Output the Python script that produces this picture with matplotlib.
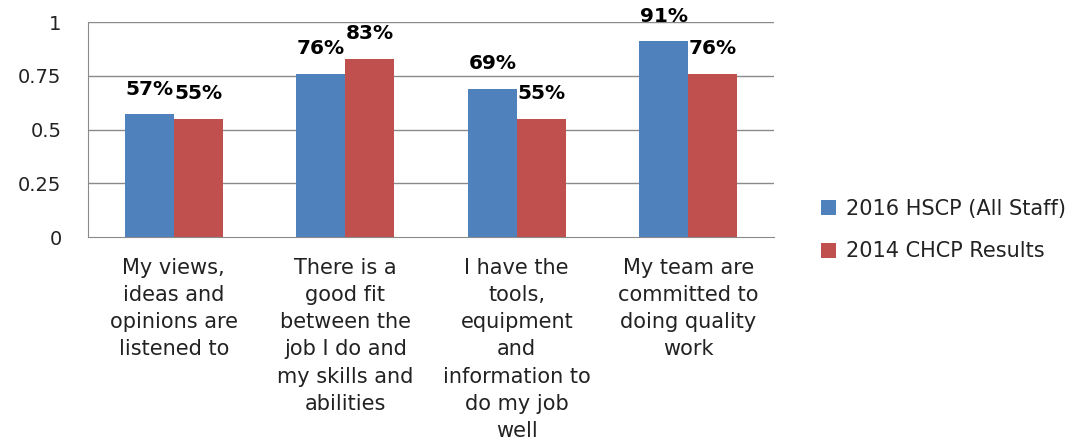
import matplotlib
matplotlib.use("Agg")
import matplotlib.pyplot as plt
import numpy as np

categories = [
    "My views,\nideas and\nopinions are\nlistened to",
    "There is a\ngood fit\nbetween the\njob I do and\nmy skills and\nabilities",
    "I have the\ntools,\nequipment\nand\ninformation to\ndo my job\nwell",
    "My team are\ncommitted to\ndoing quality\nwork",
]
series_names = ["2016 HSCP (All Staff)", "2014 CHCP Results"]
hscp_2016 = [0.57, 0.76, 0.69, 0.91]
chcp_2014 = [0.55, 0.83, 0.55, 0.76]
yticks = [0, 0.25, 0.5, 0.75, 1]
ytick_labels = ["0", "0.25", "0.5", "0.75", "1"]

colors = ["#4F81BD", "#C0504D"]

fig = plt.figure(figsize=(10.91, 4.43), dpi=100)
ax = fig.add_axes([88/1091, 1-237/443, (774-88)/1091, (237-22)/443])

x = np.arange(len(categories))
w = 0.285
b1 = ax.bar(x - w/2, hscp_2016, w, color=colors[0], label=series_names[0])
b2 = ax.bar(x + w/2, chcp_2014, w, color=colors[1], label=series_names[1])

for bars, vals in ((b1, hscp_2016), (b2, chcp_2014)):
    for r, v in zip(bars, vals):
        ax.annotate(f"{round(v*100)}%", (r.get_x() + r.get_width()/2, v),
                    xytext=(0, 11), textcoords="offset points",
                    ha="center", va="bottom", fontsize=14.5, fontweight="bold",
                    annotation_clip=False)

ax.set_xlim(-0.5, len(categories) - 0.5)
ax.set_ylim(0, 1)
ax.set_yticks(yticks)
ax.set_yticklabels(ytick_labels, fontsize=14, color="#222222")
ax.set_xticks(x)
ax.set_xticklabels(categories, fontsize=15, linespacing=1.45, va="top", color="#222222")
ax.tick_params(axis="both", length=0)
ax.tick_params(axis="y", pad=19)
ax.tick_params(axis="x", pad=15)
for y in yticks[1:]:
    ax.axhline(y, color="#8a8a8a", lw=1, zorder=0)
for s in ["top", "right"]:
    ax.spines[s].set_visible(False)
for s in ["left", "bottom"]:
    ax.spines[s].set_color("#8a8a8a")
ax.set_axisbelow(True)

fig.legend(handles=[b1, b2], labels=series_names, loc="center left",
           bbox_to_anchor=(802/1091, 1-230/443), frameon=False, fontsize=15,
           handlelength=0.75, handleheight=0.75, labelspacing=1.1, handletextpad=0.45,
           labelcolor="#222222")

fig.savefig("out.png", dpi=100)
